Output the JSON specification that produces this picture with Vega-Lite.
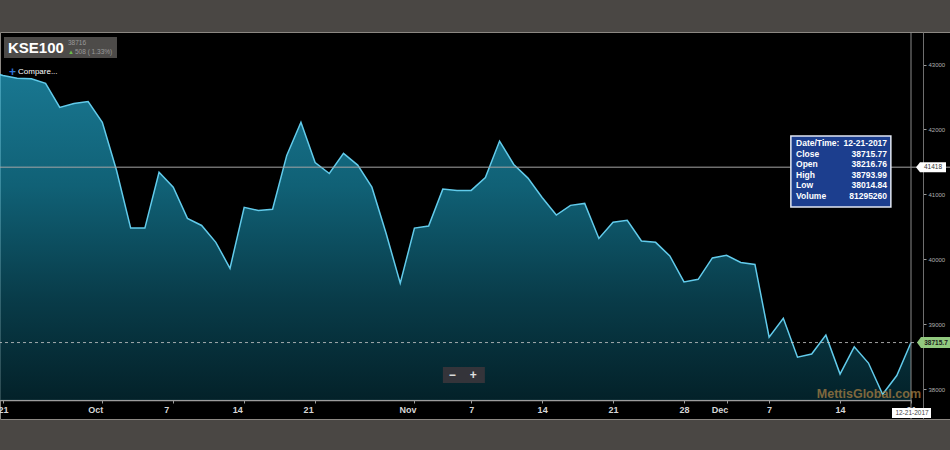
{
  "$schema": "https://vega.github.io/schema/vega-lite/v6.json",
  "width": 950,
  "height": 387,
  "autosize": {"type": "none"},
  "padding": {"left": 0, "top": 32, "right": 0, "bottom": 31},
  "background": "#4a4744",
  "view": {"fill": "#000000", "stroke": "#8c8883", "strokeWidth": 1},
  "config": {"font": "Liberation Sans", "text": {"font": "Liberation Sans"}},
  "data": {"values": [
    {"date": "2017-09-20", "close": 42900},
    {"date": "2017-09-21", "close": 42830},
    {"date": "2017-09-22", "close": 42790},
    {"date": "2017-09-25", "close": 42780},
    {"date": "2017-09-26", "close": 42710},
    {"date": "2017-09-27", "close": 42340},
    {"date": "2017-09-28", "close": 42400},
    {"date": "2017-09-29", "close": 42430},
    {"date": "2017-10-02", "close": 42110},
    {"date": "2017-10-03", "close": 41370},
    {"date": "2017-10-04", "close": 40480},
    {"date": "2017-10-05", "close": 40480},
    {"date": "2017-10-06", "close": 41340},
    {"date": "2017-10-09", "close": 41110},
    {"date": "2017-10-10", "close": 40630},
    {"date": "2017-10-11", "close": 40520},
    {"date": "2017-10-12", "close": 40260},
    {"date": "2017-10-13", "close": 39860},
    {"date": "2017-10-16", "close": 40800},
    {"date": "2017-10-17", "close": 40750},
    {"date": "2017-10-18", "close": 40770},
    {"date": "2017-10-19", "close": 41600},
    {"date": "2017-10-20", "close": 42110},
    {"date": "2017-10-23", "close": 41490},
    {"date": "2017-10-24", "close": 41320},
    {"date": "2017-10-25", "close": 41630},
    {"date": "2017-10-26", "close": 41450},
    {"date": "2017-10-27", "close": 41110},
    {"date": "2017-10-30", "close": 40400},
    {"date": "2017-10-31", "close": 39630},
    {"date": "2017-11-01", "close": 40480},
    {"date": "2017-11-02", "close": 40510},
    {"date": "2017-11-03", "close": 41080},
    {"date": "2017-11-06", "close": 41060},
    {"date": "2017-11-07", "close": 41060},
    {"date": "2017-11-08", "close": 41260},
    {"date": "2017-11-09", "close": 41820},
    {"date": "2017-11-10", "close": 41460},
    {"date": "2017-11-13", "close": 41250},
    {"date": "2017-11-14", "close": 40950},
    {"date": "2017-11-15", "close": 40680},
    {"date": "2017-11-16", "close": 40830},
    {"date": "2017-11-17", "close": 40860},
    {"date": "2017-11-20", "close": 40320},
    {"date": "2017-11-21", "close": 40570},
    {"date": "2017-11-22", "close": 40600},
    {"date": "2017-11-23", "close": 40280},
    {"date": "2017-11-24", "close": 40260},
    {"date": "2017-11-27", "close": 40050},
    {"date": "2017-11-28", "close": 39650},
    {"date": "2017-11-29", "close": 39690},
    {"date": "2017-11-30", "close": 40020},
    {"date": "2017-12-04", "close": 40060},
    {"date": "2017-12-05", "close": 39950},
    {"date": "2017-12-06", "close": 39920},
    {"date": "2017-12-07", "close": 38800},
    {"date": "2017-12-08", "close": 39090},
    {"date": "2017-12-11", "close": 38490},
    {"date": "2017-12-12", "close": 38540},
    {"date": "2017-12-13", "close": 38830},
    {"date": "2017-12-14", "close": 38230},
    {"date": "2017-12-15", "close": 38650},
    {"date": "2017-12-18", "close": 38400},
    {"date": "2017-12-19", "close": 37920},
    {"date": "2017-12-20", "close": 38208},
    {"date": "2017-12-21", "close": 38715.77}
  ]},
  "layer": [
    {
      "mark": {
        "type": "area",
        "clip": true,
        "line": {"color": "#62cbeb", "strokeWidth": 1.5},
        "color": {
          "gradient": "linear", "x1": 0, "y1": 0, "x2": 0, "y2": 1,
          "stops": [
            {"offset": 0, "color": "#24abd0"},
            {"offset": 0.35, "color": "#178aa8"},
            {"offset": 0.7, "color": "#0c5467"},
            {"offset": 1, "color": "#05303b"}
          ]
        }
      },
      "encoding": {
        "x": {
          "field": "date", "type": "ordinal",
          "scale": {"type": "point", "range": [-11.19, 911], "padding": 0},
          "axis": {
            "orient": "bottom", "offset": -19, "title": null, "grid": false,
            "values": ["2017-09-21", "2017-10-02", "2017-10-09", "2017-10-16", "2017-10-23", "2017-11-01", "2017-11-07", "2017-11-14", "2017-11-21", "2017-11-28", "2017-12-04", "2017-12-07", "2017-12-14", "2017-12-21"],
            "labelExpr": "datum.value == '2017-10-02' ? 'Oct' : datum.value == '2017-11-01' ? 'Nov' : datum.value == '2017-12-04' ? 'Dec' : datum.value == '2017-10-09' ? '7' : datum.value == '2017-10-16' ? '14' : datum.value == '2017-10-23' ? '21' : '' + toNumber(slice(datum.value, 8))",
            "labelOffset": {"condition": {"test": "indexof(['2017-10-02','2017-10-09','2017-10-16','2017-10-23','2017-11-01','2017-12-04'], datum.value) >= 0", "value": -7}, "value": 0},
            "labelAngle": 0,
            "domainColor": "#9d9d9d", "domainWidth": 1.5,
            "tickColor": "#9d9d9d", "tickSize": 3,
            "labelColor": "#d6d6d6", "labelFontSize": 9, "labelFontWeight": "bold", "labelPadding": 2
          }
        },
        "y": {
          "field": "close", "type": "quantitative",
          "scale": {"domain": [37538, 43501], "zero": false, "nice": false},
          "axis": {
            "orient": "right", "offset": -27, "title": null, "grid": false,
            "values": [38000, 39000, 40000, 41000, 42000, 43000], "format": "d",
            "domainColor": "#6e6e6e", "domainWidth": 1,
            "tickColor": "#9a9a9a", "tickSize": 3,
            "labelColor": "#b0b0b0", "labelFontSize": 6, "labelPadding": 2
          }
        },
        "y2": {"datum": 37831}
      }
    },
    {
      "data": {"values": [{}]},
      "mark": {"type": "rule", "color": "#a5a5a5", "strokeWidth": 1},
      "encoding": {"y": {"datum": 41418, "type": "quantitative"}}
    },
    {
      "data": {"values": [{}]},
      "mark": {"type": "rule", "color": "#8a8a8a", "strokeWidth": 1},
      "encoding": {"x": {"datum": "2017-12-21", "type": "ordinal"}}
    },
    {
      "data": {"values": [{}]},
      "mark": {"type": "rule", "color": "#c8c8c8", "strokeWidth": 1, "strokeDash": [3, 3], "opacity": 0.8},
      "encoding": {"y": {"datum": 38715.77, "type": "quantitative"}}
    },
    {
      "data": {"values": [{}]},
      "mark": {"type": "point", "shape": "M0.0625,-0.656L7.125,-0.656L7.125,0.656L0.0625,0.656Z", "size": 1024, "filled": true, "fill": "#4d4b49", "opacity": 1},
      "encoding": {"x": {"datum": "2017-09-21", "type": "ordinal"}, "y": {"datum": 43262, "type": "quantitative"}}
    },
    {
      "data": {"values": [{}]},
      "mark": {"type": "text", "text": "KSE100", "align": "left", "baseline": "middle", "dx": 5, "fontSize": 15, "fontWeight": "bold", "color": "#ffffff"},
      "encoding": {"x": {"datum": "2017-09-21", "type": "ordinal"}, "y": {"datum": 43262, "type": "quantitative"}}
    },
    {
      "data": {"values": [{}]},
      "mark": {"type": "text", "text": "38716", "align": "left", "baseline": "middle", "dx": 65, "fontSize": 6.5, "color": "#9a9a9a"},
      "encoding": {"x": {"datum": "2017-09-21", "type": "ordinal"}, "y": {"datum": 43339, "type": "quantitative"}}
    },
    {
      "data": {"values": [{}]},
      "mark": {"type": "text", "text": "▲", "align": "left", "baseline": "middle", "dx": 65, "fontSize": 6, "color": "#6bbf4a"},
      "encoding": {"x": {"datum": "2017-09-21", "type": "ordinal"}, "y": {"datum": 43200, "type": "quantitative"}}
    },
    {
      "data": {"values": [{}]},
      "mark": {"type": "text", "text": "508 ( 1.33%)", "align": "left", "baseline": "middle", "dx": 72, "fontSize": 6.5, "color": "#9a9a9a"},
      "encoding": {"x": {"datum": "2017-09-21", "type": "ordinal"}, "y": {"datum": 43200, "type": "quantitative"}}
    },
    {
      "data": {"values": [{}]},
      "mark": {"type": "text", "text": "+", "align": "left", "baseline": "middle", "dx": 6, "fontSize": 12, "fontWeight": "bold", "color": "#2f74d6"},
      "encoding": {"x": {"datum": "2017-09-21", "type": "ordinal"}, "y": {"datum": 42885, "type": "quantitative"}}
    },
    {
      "data": {"values": [{}]},
      "mark": {"type": "text", "text": "Compare...", "align": "left", "baseline": "middle", "dx": 15, "fontSize": 8, "color": "#ffffff"},
      "encoding": {"x": {"datum": "2017-09-21", "type": "ordinal"}, "y": {"datum": 42885, "type": "quantitative"}}
    },
    {
      "data": {"values": [{}]},
      "mark": {"type": "point", "shape": "M-1.348,-0.381L0.652,-0.381L0.652,0.381L-1.348,0.381Z", "size": 1764, "filled": true, "fill": "#34343a", "opacity": 1},
      "encoding": {"x": {"datum": "2017-11-07", "type": "ordinal"}, "y": {"datum": 38216, "type": "quantitative"}}
    },
    {
      "data": {"values": [{}]},
      "mark": {"type": "text", "text": "−", "align": "center", "baseline": "middle", "dx": -19, "fontSize": 12, "fontWeight": "bold", "color": "#e0e0e0"},
      "encoding": {"x": {"datum": "2017-11-07", "type": "ordinal"}, "y": {"datum": 38216, "type": "quantitative"}}
    },
    {
      "data": {"values": [{}]},
      "mark": {"type": "text", "text": "+", "align": "center", "baseline": "middle", "dx": 2, "fontSize": 12, "fontWeight": "bold", "color": "#e0e0e0"},
      "encoding": {"x": {"datum": "2017-11-07", "type": "ordinal"}, "y": {"datum": 38216, "type": "quantitative"}}
    },
    {
      "data": {"values": [{}]},
      "mark": {"type": "text", "text": "MettisGlobal.com", "align": "right", "baseline": "middle", "dx": 10, "fontSize": 12.5, "fontWeight": "bold", "color": "#a67f44", "opacity": 0.75},
      "encoding": {"x": {"datum": "2017-12-21", "type": "ordinal"}, "y": {"datum": 37923, "type": "quantitative"}}
    },
    {
      "data": {"values": [{}]},
      "mark": {"type": "point", "shape": "M-0.984,-0.71L1.016,-0.71L1.016,0.71L-0.984,0.71Z", "size": 10000, "filled": true, "fill": "#1c3e8e", "stroke": "#e2e8f4", "strokeWidth": 1.5, "opacity": 1, "strokeOpacity": 1},
      "encoding": {"x": {"datum": "2017-12-14", "type": "ordinal"}, "y": {"datum": 41351, "type": "quantitative"}}
    },
    {
      "data": {"values": [{}]},
      "mark": {"type": "text", "text": ["Date/Time:", "Close", "Open", "High", "Low", "Volume"], "align": "left", "baseline": "top", "dx": -44, "lineHeight": 10.5, "fontSize": 8.5, "fontWeight": "bold", "color": "#ffffff"},
      "encoding": {"x": {"datum": "2017-12-14", "type": "ordinal"}, "y": {"datum": 41845, "type": "quantitative"}}
    },
    {
      "data": {"values": [{}]},
      "mark": {"type": "text", "text": ["12-21-2017", "38715.77", "38216.76", "38793.99", "38014.84", "81295260"], "align": "right", "baseline": "top", "dx": 47, "lineHeight": 10.5, "fontSize": 8.5, "fontWeight": "bold", "color": "#ffffff"},
      "encoding": {"x": {"datum": "2017-12-14", "type": "ordinal"}, "y": {"datum": 41845, "type": "quantitative"}}
    },
    {
      "data": {"values": [{}]},
      "mark": {"type": "point", "shape": "M0.3125,0L0.5625,-0.3125L2.1875,-0.3125L2.1875,0.3125L0.5625,0.3125Z", "size": 1024, "filled": true, "fill": "#ffffff", "opacity": 1},
      "encoding": {"x": {"datum": "2017-12-21", "type": "ordinal"}, "y": {"datum": 41418, "type": "quantitative"}}
    },
    {
      "data": {"values": [{}]},
      "mark": {"type": "text", "text": "41418", "align": "center", "baseline": "middle", "dx": 22, "fontSize": 6.5, "color": "#333333"},
      "encoding": {"x": {"datum": "2017-12-21", "type": "ordinal"}, "y": {"datum": 41418, "type": "quantitative"}}
    },
    {
      "data": {"values": [{}]},
      "mark": {"type": "point", "shape": "M0.375,0L0.625,-0.34L3.1,-0.34L3.1,0.34L0.625,0.34Z", "size": 1024, "filled": true, "fill": "#92c97f", "opacity": 1},
      "encoding": {"x": {"datum": "2017-12-21", "type": "ordinal"}, "y": {"datum": 38715.77, "type": "quantitative"}}
    },
    {
      "data": {"values": [{}]},
      "mark": {"type": "text", "text": "38715.7", "align": "center", "baseline": "middle", "dx": 25, "fontSize": 6.5, "fontWeight": "bold", "color": "#1a1a1a"},
      "encoding": {"x": {"datum": "2017-12-21", "type": "ordinal"}, "y": {"datum": 38715.77, "type": "quantitative"}}
    },
    {
      "data": {"values": [{}]},
      "mark": {"type": "point", "shape": "M-1.1875,-0.3125L1.25,-0.3125L1.25,0.3125L-1.1875,0.3125Z", "size": 1024, "filled": true, "fill": "#ffffff", "opacity": 1},
      "encoding": {"x": {"datum": "2017-12-21", "type": "ordinal"}, "y": {"datum": 37630, "type": "quantitative"}}
    },
    {
      "data": {"values": [{}]},
      "mark": {"type": "text", "text": "12-21-2017", "align": "center", "baseline": "middle", "dx": 1, "fontSize": 6.5, "color": "#444444"},
      "encoding": {"x": {"datum": "2017-12-21", "type": "ordinal"}, "y": {"datum": 37630, "type": "quantitative"}}
    }
  ]
}
